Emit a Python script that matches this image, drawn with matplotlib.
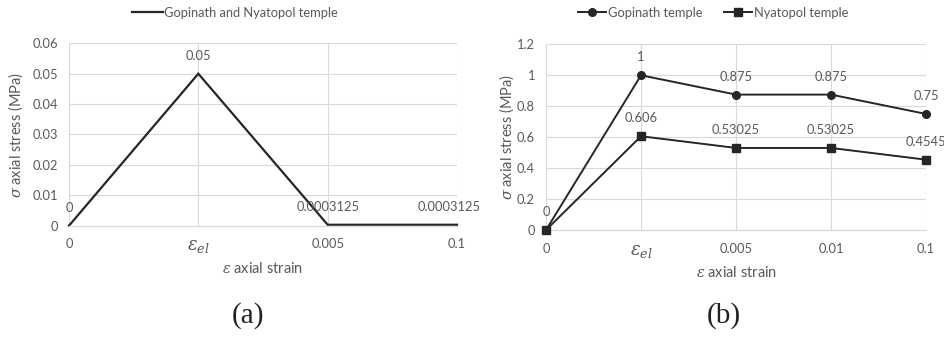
import matplotlib
matplotlib.use("Agg")
import matplotlib.pyplot as plt
from matplotlib.lines import Line2D

plt.rcParams['font.family'] = ['Lato', 'DejaVu Sans']
plt.rcParams['mathtext.fontset'] = 'dejavuserif'

# ---- data ----
cats_a = ['0', r'$\varepsilon_{el}$', '0.005', '0.1']
vals_a = [0, 0.05, 0.0003125, 0.0003125]
labels_a = ['0', '0.05', '0.0003125', '0.0003125']
series_a_name = 'Gopinath and Nyatopol temple'

cats_b = ['0', r'$\varepsilon_{el}$', '0.005', '0.01', '0.1']
gop_b = [0, 1, 0.875, 0.875, 0.75]
gop_labels = ['0', '1', '0.875', '0.875', '0.75']
nya_b = [0, 0.606, 0.53025, 0.53025, 0.4545]
nya_labels = ['', '0.606', '0.53025', '0.53025', '0.4545']

yticks_a = [0, 0.01, 0.02, 0.03, 0.04, 0.05, 0.06]
yticks_b = [0, 0.2, 0.4, 0.6, 0.8, 1.0, 1.2]
ytl_a = ['0', '0.01', '0.02', '0.03', '0.04', '0.05', '0.06']
ytl_b = ['0', '0.2', '0.4', '0.6', '0.8', '1', '1.2']

TXT = '#595959'
GRID = '#d9d9d9'
LINE = '#262626'
FS = 9.3

fig = plt.figure(figsize=(9.45, 3.39), dpi=100)
axA = fig.add_axes([0.0730, 0.3342, 0.4106, 0.5381])
axB = fig.add_axes([0.5778, 0.3215, 0.4021, 0.5478])


def style(ax, cats, yticks, ytl):
    n = len(cats)
    ax.set_xlim(0, n - 1)
    ax.set_ylim(yticks[0], yticks[-1])
    ax.set_yticks(yticks)
    ax.set_yticklabels(ytl)
    ax.set_xticks(range(n))
    ax.set_xticklabels(cats)
    for s in ['top', 'right', 'left']:
        ax.spines[s].set_visible(False)
    ax.spines['bottom'].set_color(GRID)
    ax.spines['bottom'].set_linewidth(0.9)
    ax.grid(True, color=GRID, linewidth=0.8)
    ax.set_axisbelow(True)
    ax.tick_params(length=0, colors=TXT, labelsize=FS)
    ax.tick_params(axis='x', pad=9)
    ax.tick_params(axis='y', pad=8)
    for lab in ax.get_xticklabels():
        if 'varepsilon' in lab.get_text():
            lab.set_fontsize(13)
    ax.set_xlabel(r'$\mathit{\varepsilon}$ axial strain', color=TXT, fontsize=10.5, labelpad=4)
    ax.set_ylabel(r'$\sigma$ axial stress (MPa)', color=TXT, fontsize=10.5, labelpad=6)
    ax.patch.set_alpha(0)


style(axA, cats_a, yticks_a, ytl_a)
style(axB, cats_b, yticks_b, ytl_b)
axA.yaxis.set_label_coords(-44 / 388, 0.5)
axB.yaxis.set_label_coords(-30 / 380, 0.5)

# panel a
xa = list(range(len(cats_a)))
axA.plot(xa, vals_a, color=LINE, lw=1.6, clip_on=False, solid_joinstyle='miter')
for i, (x, y, t) in enumerate(zip(xa, vals_a, labels_a)):
    dx = -6 if i == len(xa) - 1 else 0
    axA.annotate(t, (x, y), xytext=(dx, 12.5), textcoords='offset points',
                 ha='center', va='center', color=TXT, fontsize=FS, annotation_clip=False)
hA = [Line2D([], [], color=LINE, lw=1.6)]
axA.legend(hA, [series_a_name], loc='center', bbox_to_anchor=(235 / 945, 1 - 13 / 339),
           bbox_transform=fig.transFigure, frameon=False, fontsize=FS, labelcolor=TXT,
           handlelength=2.4, handletextpad=0.1, borderpad=0)

# panel b
xb = list(range(len(cats_b)))
axB.plot(xb, gop_b, color=LINE, lw=1.4, marker='o', ms=5.5, clip_on=False, zorder=3)
axB.plot(xb, nya_b, color=LINE, lw=1.4, marker='s', ms=5.5, clip_on=False, zorder=4)
for x, y, t in zip(xb, gop_b, gop_labels):
    axB.annotate(t, (x, y), xytext=(0, 13), textcoords='offset points',
                 ha='center', va='center', color=TXT, fontsize=FS, annotation_clip=False)
for x, y, t in zip(xb, nya_b, nya_labels):
    if t:
        axB.annotate(t, (x, y), xytext=(0, 13), textcoords='offset points',
                     ha='center', va='center', color=TXT, fontsize=FS, annotation_clip=False)
hB = [Line2D([], [], color=LINE, lw=1.4, marker='o', ms=5.5),
      Line2D([], [], color=LINE, lw=1.4, marker='s', ms=5.5)]
axB.legend(hB, ['Gopinath temple', 'Nyatopol temple'], loc='center', ncol=2,
           bbox_to_anchor=(713 / 945, 1 - 13 / 339), bbox_transform=fig.transFigure,
           frameon=False, fontsize=FS, labelcolor=TXT, handlelength=2.2,
           handletextpad=0.1, columnspacing=1.7, borderpad=0)

fig.text(248 / 945, 1 - 316 / 339, '(a)', ha='center', va='center',
         family='Liberation Serif', fontsize=21, color='#222222')
fig.text(724 / 945, 1 - 316 / 339, '(b)', ha='center', va='center',
         family='Liberation Serif', fontsize=21, color='#222222')

fig.savefig('out.png', dpi=100)
